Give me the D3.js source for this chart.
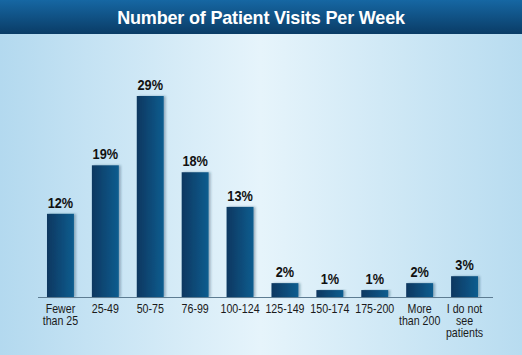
<!DOCTYPE html>
<html><head><meta charset="utf-8">
<script src="https://cdn.jsdelivr.net/npm/d3@7"></script>
<style>html,body{margin:0;padding:0;overflow:hidden;background:#fff}</style>
</head><body>
<script>
const categories = ["Fewer|than 25","25-49","50-75","76-99","100-124","125-149","150-174","175-200","More|than 200","I do not|see|patients"];
const values = [12,19,29,18,13,2,1,1,2,3];
const valueLabels = ["12%","19%","29%","18%","13%","2%","1%","1%","2%","3%"];
const title = "Number of Patient Visits Per Week";

const W=522,H=355;
const svg=d3.select("body").append("svg").attr("width",W).attr("height",H);
const defs=svg.append("defs");
const bg=defs.append("linearGradient").attr("id","bg").attr("x1","0").attr("x2","1").attr("y1","0").attr("y2","0");
bg.append("stop").attr("offset","0").attr("stop-color","#b3d9ef");
bg.append("stop").attr("offset","0.5").attr("stop-color","#e6f4fb");
bg.append("stop").attr("offset","1").attr("stop-color","#b8dcf0");
const tb=defs.append("linearGradient").attr("id","tb").attr("x1","0").attr("x2","0").attr("y1","0").attr("y2","1");
tb.append("stop").attr("offset","0").attr("stop-color","#1667a3");
tb.append("stop").attr("offset","1").attr("stop-color","#0a3c66");
const bar=defs.append("linearGradient").attr("id","bar").attr("x1","0").attr("x2","1").attr("y1","0").attr("y2","0");
bar.append("stop").attr("offset","0").attr("stop-color","#0c3760");
bar.append("stop").attr("offset","1").attr("stop-color","#0f5d8f");
const sh=defs.append("filter").attr("id","sh").attr("x","-20%").attr("y","-10%").attr("width","150%").attr("height","130%");
sh.append("feDropShadow").attr("dx",2).attr("dy",0).attr("stdDeviation",1.2).attr("flood-color","#1a3a55").attr("flood-opacity",0.35);

svg.append("rect").attr("width",W).attr("height",H).attr("fill","url(#bg)");
svg.append("rect").attr("width",W).attr("height",34).attr("fill","url(#tb)");
svg.append("text").attr("transform",`translate(${W/2},24) scale(0.95,1)`).attr("text-anchor","middle")
  .attr("fill","#fff").attr("font-family","Liberation Sans, Arial, sans-serif").attr("font-weight","bold")
  .attr("font-size",19).attr("letter-spacing","-0.2").text(title);

const baseY=297;
const x=d3.scaleBand().domain(d3.range(categories.length)).range([38,487]).paddingInner(0.4).paddingOuter(0.2);
const y=d3.scaleLinear().domain([0,29]).range([baseY,96]);

const g=svg.append("g");
g.selectAll("rect.b").data(values).join("rect").attr("class","b")
 .attr("x",(d,i)=>x(i)).attr("width",x.bandwidth())
 .attr("y",d=>y(d)).attr("height",d=>baseY-y(d))
 .attr("fill","url(#bar)").attr("filter","url(#sh)");

svg.append("line").attr("x1",38).attr("x2",493).attr("y1",baseY+0.5).attr("y2",baseY+0.5)
  .attr("stroke","#5d7c92").attr("stroke-width",1);

const cf="Liberation Sans, Arial, sans-serif";
g.selectAll("text.v").data(values).join("text").attr("class","v")
 .attr("transform",(d,i)=>`translate(${x(i)+x.bandwidth()/2},${y(d)-6}) scale(0.85,1)`)
 .attr("text-anchor","middle").attr("font-family",cf).attr("font-weight","bold")
 .attr("font-size",15).attr("fill","#111").text((d,i)=>valueLabels[i]);

categories.forEach((c,i)=>{
  const t=svg.append("text").attr("transform",`translate(${x(i)+x.bandwidth()/2},313) scale(0.82,1)`)
   .attr("text-anchor","middle").attr("font-family",cf).attr("font-size",13).attr("fill","#1a1a1a");
  c.split("|").forEach((s,j)=>t.append("tspan").attr("x",0).attr("dy",j?12:0).text(s));
});
</script>
</body></html>
